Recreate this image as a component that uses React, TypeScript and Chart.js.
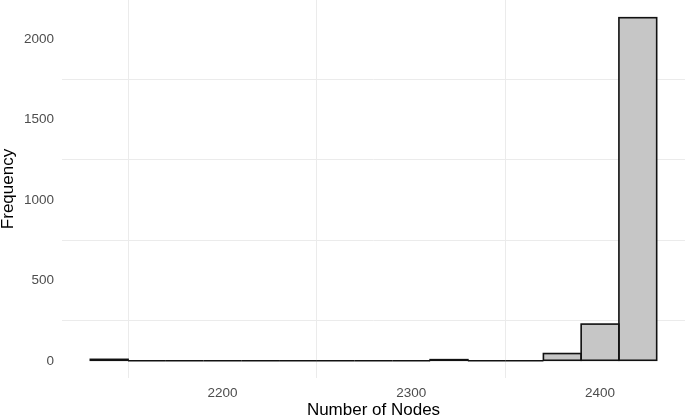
import React, { useEffect, useRef } from "react";
import { Chart, registerables } from "chart.js";

Chart.register(...registerables);

// Histogram bins (centres) and counts
const binCenters = [2140, 2160, 2180, 2200, 2220, 2240, 2260, 2280, 2300, 2320, 2340, 2360, 2380, 2400, 2420];
const counts = [9, 0, 0, 0, 0, 0, 0, 0, 0, 7, 0, 0, 45, 228, 2132];

// Axis ticks / grid positions
const xMajorTicks = [2200, 2300, 2400];
const xMinorGrid = [2150, 2250, 2350, 2450];
const yMajorTicks = [0, 500, 1000, 1500, 2000];
const yMinorGrid = [250, 750, 1250, 1750];

const xTitle = "Number of Nodes";
const yTitle = "Frequency";

const FONT = "'Liberation Sans', Arial, Helvetica, sans-serif";

const outlinePlugin = {
  id: "histOutline",
  afterDatasetsDraw(chart: any) {
    const meta = chart.getDatasetMeta(0);
    const ctx = chart.ctx;
    ctx.save();
    ctx.strokeStyle = "#111111";
    ctx.lineWidth = 1.6;
    meta.data.forEach((bar: any) => {
      const p = bar.getProps(["x", "y", "base", "width"], true);
      const left = p.x - p.width / 2;
      const top = Math.min(p.y, p.base);
      ctx.strokeRect(left, top, p.width, Math.abs(p.base - p.y));
    });
    ctx.restore();
  },
};

export default function App() {
  const ref = useRef<HTMLCanvasElement | null>(null);

  useEffect(() => {
    if (!ref.current) return;
    const chart = new Chart(ref.current, {
      type: "bar",
      data: {
        datasets: [
          {
            data: binCenters.map((x, i) => ({ x, y: counts[i] })),
            backgroundColor: "#c6c6c6",
            borderWidth: 0,
            barPercentage: 1,
            categoryPercentage: 1,
          },
        ],
      },
      plugins: [outlinePlugin],
      options: {
        responsive: false,
        animation: false,
        layout: { padding: 0 },
        plugins: {
          legend: { display: false },
          tooltip: { enabled: false },
        },
        scales: {
          x: {
            type: "linear",
            min: 2115,
            max: 2445,
            offset: false,
            afterBuildTicks: (scale: any) => {
              scale.ticks = [...xMinorGrid, ...xMajorTicks]
                .filter((v) => v >= 2115 && v <= 2445)
                .sort((a, b) => a - b)
                .map((v) => ({ value: v }));
            },
            afterFit: (scale: any) => {
              scale.height = 41;
              scale.paddingLeft = 0;
              scale.paddingRight = 0;
            },
            border: { display: false },
            grid: {
              offset: false,
              drawTicks: false,
              lineWidth: 1,
              color: (c: any) => (xMinorGrid.includes(c.tick?.value) ? "#ebebeb" : "rgba(0,0,0,0)"),
            },
            ticks: {
              autoSkip: false,
              maxRotation: 0,
              padding: 7,
              color: "#4d4d4d",
              font: { family: FONT, size: 13.5 },
              callback: (v: any) => (xMajorTicks.includes(Number(v)) ? String(v) : ""),
            },
            title: {
              display: true,
              text: xTitle,
              color: "#000000",
              padding: 0,
              font: { family: FONT, size: 17, lineHeight: 1 },
            },
          },
          y: {
            type: "linear",
            min: -107,
            max: 2242,
            afterBuildTicks: (scale: any) => {
              scale.ticks = [...yMinorGrid, ...yMajorTicks]
                .sort((a, b) => a - b)
                .map((v) => ({ value: v }));
            },
            afterFit: (scale: any) => {
              scale.width = 62;
              scale.paddingTop = 0;
              scale.paddingBottom = 0;
            },
            border: { display: false },
            grid: {
              drawTicks: false,
              lineWidth: 1,
              color: (c: any) => (yMinorGrid.includes(c.tick?.value) ? "#ebebeb" : "rgba(0,0,0,0)"),
            },
            ticks: {
              autoSkip: false,
              padding: 8,
              color: "#4d4d4d",
              font: { family: FONT, size: 13.5 },
              callback: (v: any) => (yMajorTicks.includes(Number(v)) ? String(v) : ""),
            },
            title: {
              display: true,
              text: yTitle,
              color: "#000000",
              padding: 0,
              font: { family: FONT, size: 17, lineHeight: 1 },
            },
          },
        },
      },
    });
    return () => chart.destroy();
  }, []);

  return (
    <div style={{ position: "absolute", left: 0, top: 0, width: 685, height: 419, background: "#ffffff" }}>
      <canvas ref={ref} width={685} height={419} style={{ display: "block" }} />
    </div>
  );
}
